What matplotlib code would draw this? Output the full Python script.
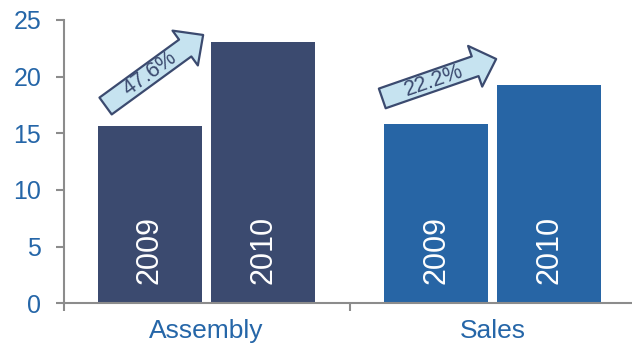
import numpy as np
import matplotlib
matplotlib.use('Agg')
from matplotlib import pyplot as plt

# data
categories = ['Assembly', 'Sales']
years = ['2009', '2010']
values_2009 = [15.65, 15.8]
values_2010 = [23.1, 19.3]
growth_labels = ['47.6%', '22.2%']

bar_colors = ['#3b4a6f', '#2765a5']
tick_blue = '#2566a8'
arrow_fill = '#c6e3f0'
arrow_edge = '#3b4a6f'
spine_gray = '#8c8c8c'

plt.rcParams['font.family'] = ['Liberation Sans', 'DejaVu Sans']

fig = plt.figure(figsize=(6.32, 3.43), dpi=100)
ax = fig.add_axes([0.1005, 0.1157, 0.9055, 0.826])

x = np.arange(len(categories))
width = 0.364
offset = 0.198

for i in range(len(categories)):
    ax.bar(x[i] - offset, values_2009[i], width, color=bar_colors[i])
    ax.bar(x[i] + offset, values_2010[i], width, color=bar_colors[i])
    ax.text(x[i] - offset, 1.7, years[0], rotation=90, ha='center', va='bottom',
            color='white', fontsize=22)
    ax.text(x[i] + offset, 1.7, years[1], rotation=90, ha='center', va='bottom',
            color='white', fontsize=22)

ax.set_xlim(-0.5, 1.5)
ax.set_ylim(0, 25)
ax.set_yticks([0, 5, 10, 15, 20, 25])
ax.set_xticks([-0.5, 0.5, 1.5])
ax.set_xticklabels([])
ax.set_xticks(x, minor=True)
ax.set_xticklabels(categories, minor=True)

for side in ['top', 'right']:
    ax.spines[side].set_visible(False)
for side in ['left', 'bottom']:
    ax.spines[side].set_color(spine_gray)
    ax.spines[side].set_linewidth(1.5)

ax.tick_params(axis='y', colors=spine_gray, labelcolor=tick_blue, labelsize=18,
               length=6, width=1.5, pad=10)
ax.tick_params(axis='x', which='major', colors=spine_gray, length=6, width=1.5)
ax.tick_params(axis='x', which='minor', length=0, labelcolor=tick_blue,
               labelsize=19, pad=11)

# growth arrows from the 2009 bar towards the 2010 bar
tail_dx = [-0.353, -0.386]
tail_dy = [1.76, 2.28]
tip_dx = [-0.012, 0.012]
tip_dy = [0.58, 2.26]

for i in range(len(categories)):
    tail = (x[i] + tail_dx[i], values_2009[i] + tail_dy[i])
    tip = (x[i] + tip_dx[i], values_2010[i] + tip_dy[i])
    ax.annotate('', xy=tip, xytext=tail, xycoords='data',
                arrowprops=dict(arrowstyle='simple,head_length=16,head_width=31,tail_width=15',
                                mutation_scale=1, fc=arrow_fill, ec=arrow_edge, lw=1.6,
                                shrinkA=0, shrinkB=0))
    p1 = ax.transData.transform(tail)
    p2 = ax.transData.transform(tip)
    angle = np.degrees(np.arctan2(p2[1] - p1[1], p2[0] - p1[0]))
    tx = tail[0] + 0.45 * (tip[0] - tail[0])
    ty = tail[1] + 0.45 * (tip[1] - tail[1])
    ax.text(tx, ty, growth_labels[i], rotation=angle, rotation_mode='anchor',
            ha='center', va='center', color=arrow_edge, fontsize=15.5)

fig.savefig('out.png', dpi=100)
